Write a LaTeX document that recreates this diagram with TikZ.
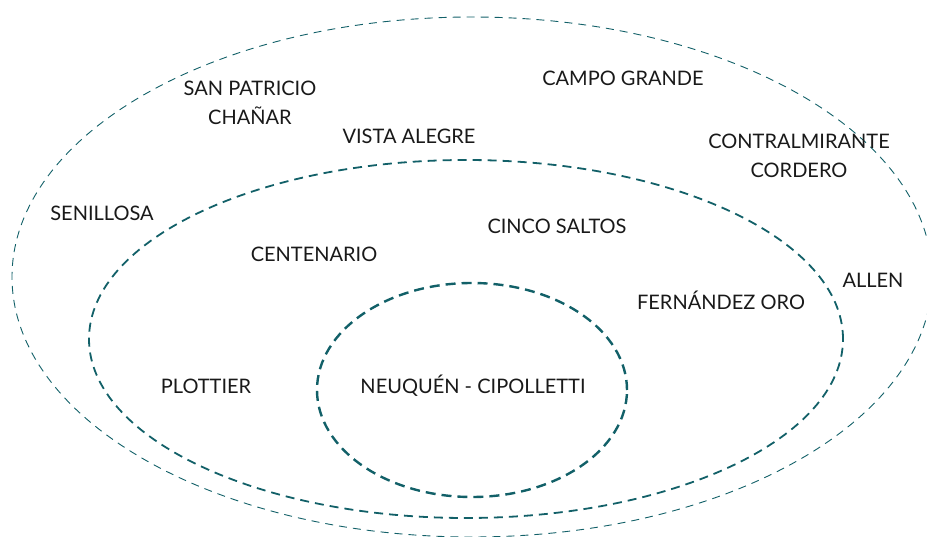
\documentclass[tikz,border=0pt]{standalone}
\usepackage{fontspec}
\setmainfont{Lato}
\usetikzlibrary{shapes.geometric}
\definecolor{teal1}{RGB}{18,96,104}
\tikzset{
  ring/.style={draw=teal1, ellipse, inner sep=0pt, outer sep=0pt},
  lbl/.style={font=\fontsize{20}{29}\selectfont, text=black!90, align=center, inner sep=0pt}
}
\begin{document}
\begin{tikzpicture}[x=1pt,y=-1pt]
\useasboundingbox (0,0) rectangle (927,537);
\node[ring, line width=0.9pt, dash pattern=on 8pt off 6pt, minimum width=920pt, minimum height=520pt] (outer) at (472,277) {};
\node[ring, line width=1.8pt, dash pattern=on 9pt off 6pt, minimum width=754pt, minimum height=358pt] (middle) at (466,339) {};
\node[ring, line width=2.4pt, dash pattern=on 10pt off 6pt, minimum width=310pt, minimum height=214pt] (inner) at (472,390) {};
\node[lbl] (sanpatricio) at (250,103) {SAN PATRICIO\\CHAÑAR};
\node[lbl] (vista) at (409,136) {VISTA ALEGRE};
\node[lbl] (campo) at (623,78) {CAMPO GRANDE};
\node[lbl] (contral) at (799,156) {CONTRALMIRANTE\\CORDERO};
\node[lbl] (senillosa) at (102,213) {SENILLOSA};
\node[lbl] (cinco) at (557,226) {CINCO SALTOS};
\node[lbl] (centenario) at (314,254) {CENTENARIO};
\node[lbl] (allen) at (873,280) {ALLEN};
\node[lbl] (fernandez) at (721,300) {FERNÁNDEZ ORO};
\node[lbl] (plottier) at (206,386) {PLOTTIER};
\node[lbl] (neuquen) at (473,386) {NEUQUÉN - CIPOLLETTI};
\end{tikzpicture}
\end{document}
